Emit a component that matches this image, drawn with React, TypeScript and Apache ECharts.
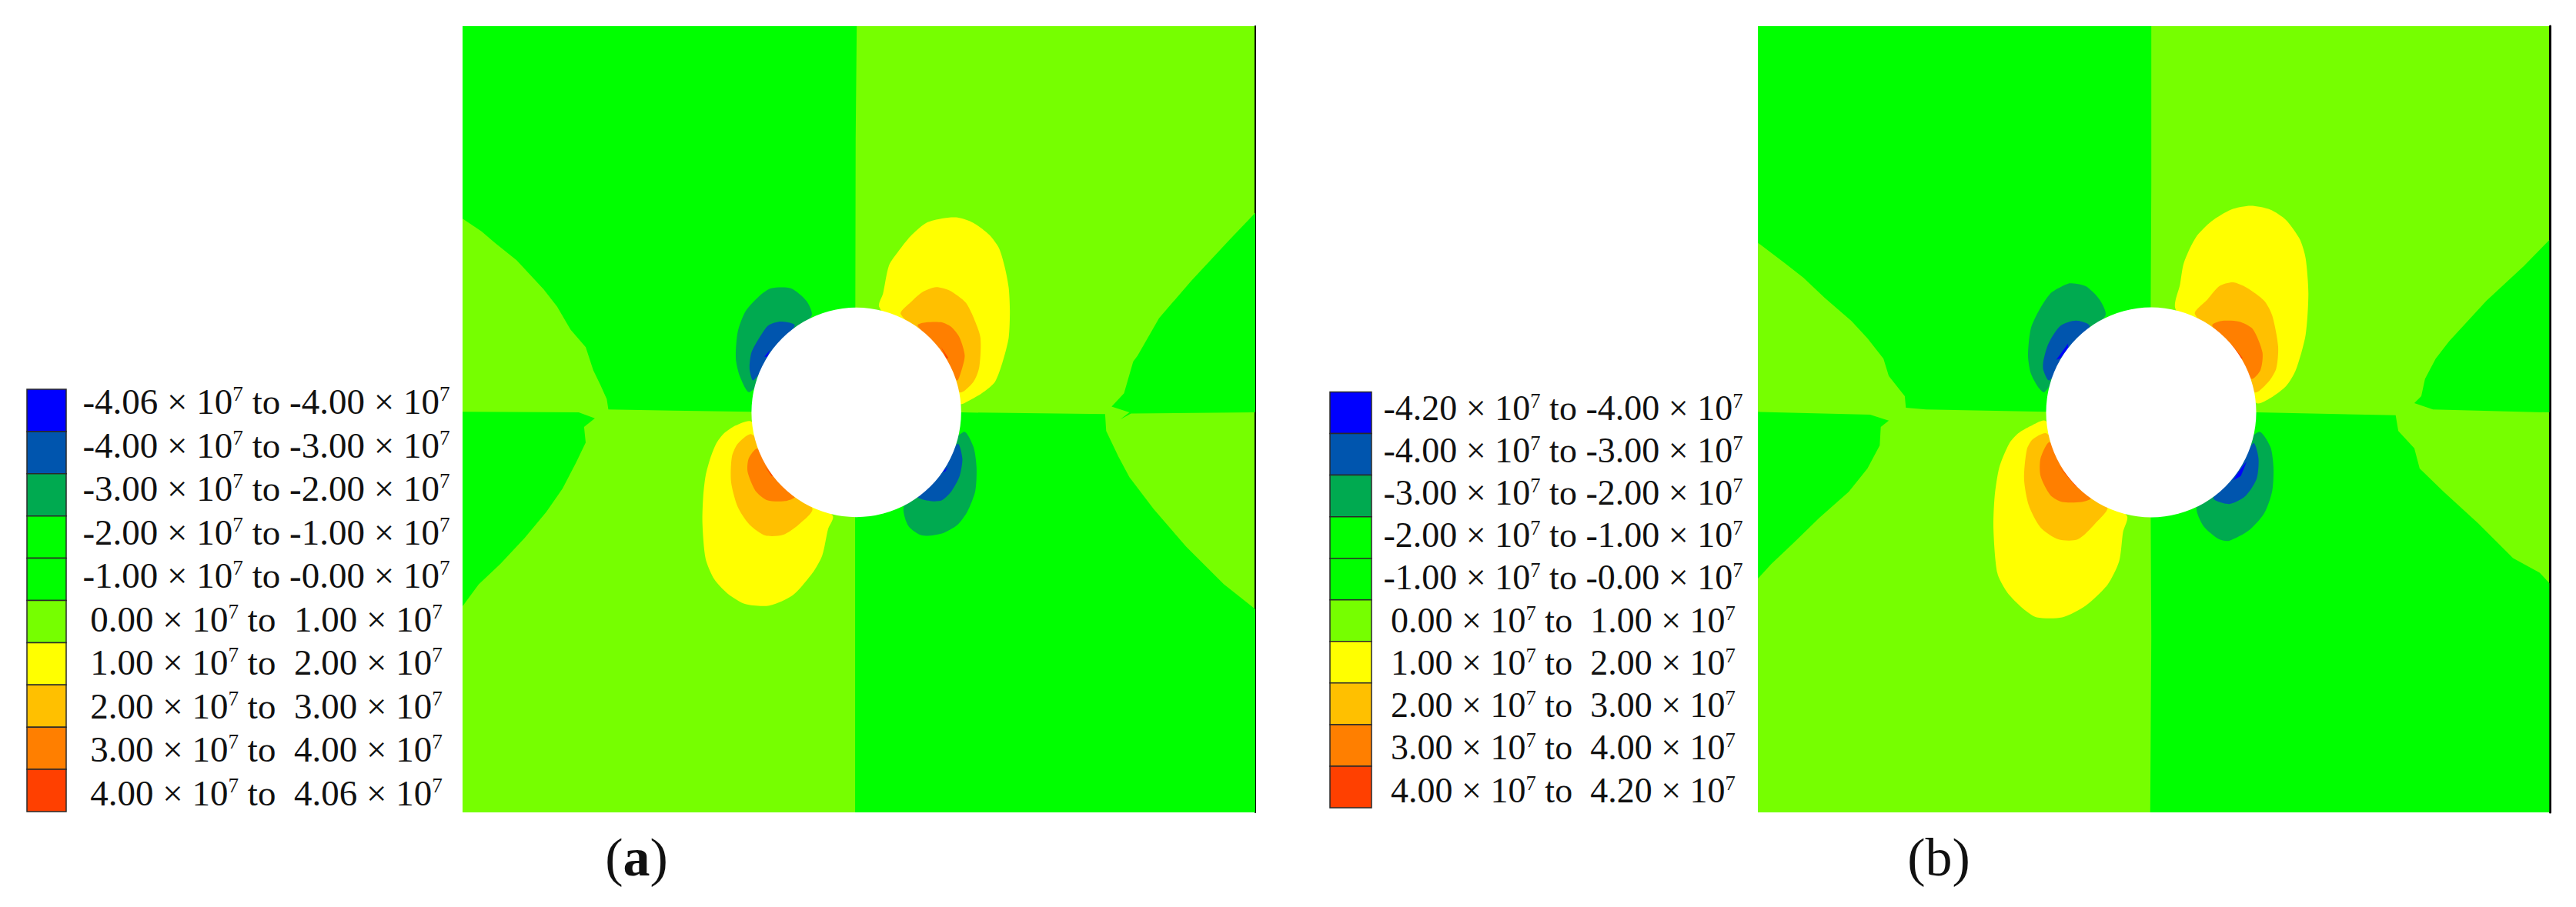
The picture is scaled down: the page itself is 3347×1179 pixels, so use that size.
import React, { useEffect, useRef } from "react";
import * as echarts from "echarts";

// Stress bands (legend rows)
const rowsA: [string, string][] = [
  ["-4.06", "-4.00"], ["-4.00", "-3.00"], ["-3.00", "-2.00"], ["-2.00", "-1.00"], ["-1.00", "-0.00"],
  ["0.00", "1.00"], ["1.00", "2.00"], ["2.00", "3.00"], ["3.00", "4.00"], ["4.00", "4.06"],
];
const rowsB: [string, string][] = [
  ["-4.20", "-4.00"], ["-4.00", "-3.00"], ["-3.00", "-2.00"], ["-2.00", "-1.00"], ["-1.00", "-0.00"],
  ["0.00", "1.00"], ["1.00", "2.00"], ["2.00", "3.00"], ["3.00", "4.00"], ["4.00", "4.20"],
];
const bandColors = ["#0000FF", "#0055AE", "#00AA50", "#00FF00", "#00FF00", "#76FF00", "#FFFF00", "#FFC000", "#FF7F00", "#FF4000"];
const LIME = "#76FF00", GREEN = "#00FF00", YELLOW = "#FFFF00", AMBER = "#FFC000", ORANGE = "#FF7F00", RED = "#FF4000", TEAL = "#00AA50", BLUE = "#0055AE", DEEP = "#0000FF";

type P = number[][];
const aOuterTL: P = [[30,45],[760,45],[758,240],[757,712],[565,712],[420,710],[300,708],[297,690],[285,665],[272,640],[258,600],[230,570],[205,530],[180,500],[130,450],[90,420],[65,400],[30,378]];
const aOuterBL: P = [[30,712],[245,713],[275,723],[255,738],[258,765],[240,800],[215,845],[185,885],[145,930],[100,975],[60,1010],[30,1048]];
const aOuterTR: P = [[1498,368],[1450,415],[1380,485],[1320,550],[1280,615],[1272,625],[1255,680],[1232,703],[1265,713],[1248,725],[1268,715],[1498,713]];
const aOuterBR: P = [[757,1405],[757,712],[955,713],[1220,716],[1222,745],[1245,790],[1265,825],[1310,880],[1370,945],[1440,1010],[1498,1053],[1498,1405]];
const bOuterTL: P = [[35,45],[772,45],[772,320],[770,712],[575,712],[350,708],[312,705],[310,685],[280,650],[270,620],[240,585],[210,555],[160,515],[120,480],[85,455],[35,420]];
const bOuterBL: P = [[35,712],[245,717],[280,727],[265,738],[263,770],[240,810],[205,850],[150,895],[100,940],[60,975],[35,1000]];
const bOuterTR: P = [[1518,415],[1470,460],[1400,520],[1330,590],[1305,620],[1285,655],[1278,685],[1265,697],[1300,708],[1518,713]];
const bOuterBR: P = [[770,1405],[772,1100],[770,712],[970,713],[1230,718],[1235,745],[1265,775],[1275,810],[1320,850],[1385,905],[1450,965],[1500,990],[1518,1008],[1518,1405]];

const aYellowTR: P = [[710,415],[720,370],[735,275],[760,225],[790,175],[830,130],[870,115],[910,112],[950,130],[990,170],[1015,215],[1030,280],[1040,350],[1043,430],[1040,520],[1025,600],[1005,670],[970,710],[930,740],[915,745],[800,600]];
const aAmberTR: P = [[765,440],[790,400],[820,365],[855,348],[890,360],[930,400],[950,450],[968,520],[965,620],[950,670],[915,705],[850,550]];
const aOrangeTR: P = [[808,478],[830,468],[870,468],[895,485],[915,520],[928,580],[920,630],[908,665],[850,540]];
const aRedTR: P = [[868,552],[886,588],[882,592]];
const aTealTL: P = [[538,445],[525,395],[485,352],[435,352],[405,378],[370,430],[350,500],[345,590],[355,650],[380,705],[450,600]];
const aBlueTL: P = [[495,478],[460,465],[428,478],[405,520],[385,570],[380,625],[390,665],[450,560]];
const aDeepTL: P = [[432,562],[418,585],[425,585]];
const aYellowBL: P = [[385,805],[345,818],[315,845],[295,880],[280,930],[268,990],[262,1060],[260,1150],[268,1270],[290,1340],[325,1390],[370,1425],[430,1430],[490,1395],[540,1320],[565,1260],[580,1170],[592,1125],[500,1000]];
const aAmberBL: P = [[385,848],[350,880],[335,925],[333,1010],[350,1095],[380,1155],[420,1192],[465,1190],[505,1155],[540,1100],[450,950]];
const aOrangeBL: P = [[400,897],[378,930],[375,975],[395,1040],[425,1072],[470,1075],[495,1060],[440,980]];
const aRedBL: P = [[418,955],[440,990],[436,990]];
const aTealBR: P = [[925,840],[950,890],[958,960],[955,1040],[935,1110],[910,1155],[870,1185],[820,1192],[785,1160],[772,1100],[800,1000]];
const aBlueBR: P = [[910,880],[922,930],[915,990],[895,1040],[870,1072],[840,1075],[808,1060],[860,980]];
const aDeepBR: P = [[885,960],[878,975],[872,975]];

const bYellowTR: P = [[718,420],[730,340],[740,265],[770,180],[810,125],[860,85],[910,72],[960,85],[1000,120],[1035,185],[1050,250],[1057,370],[1050,510],[1025,630],[1000,685],[960,725],[925,742],[800,600]];
const bAmberTR: P = [[768,440],[800,390],[830,345],[865,332],[900,350],[945,395],[965,445],[980,550],[975,625],[955,670],[920,705],[850,550]];
const bOrangeTR: P = [[812,478],[835,463],[880,465],[915,490],[940,570],[935,630],[912,660],[860,550]];
const bRedTR: P = [[860,540],[890,590],[885,590]];
const bTealTL: P = [[540,445],[525,390],[490,345],[450,335],[430,345],[400,370],[370,430],[350,490],[343,580],[350,640],[370,690],[385,705],[450,590]];
const bBlueTL: P = [[500,480],[465,462],[425,480],[395,540],[382,600],[382,630],[397,665],[460,560]];
const bDeepTL: P = [[445,540],[415,595],[425,590],[445,555]];
const bYellowBL: P = [[388,803],[350,820],[318,845],[295,880],[270,960],[258,1060],[255,1170],[265,1320],[290,1385],[330,1440],[365,1470],[430,1470],[490,1430],[545,1360],[575,1280],[585,1180],[595,1125],[500,1000]];
const bAmberBL: P = [[390,845],[355,865],[340,900],[333,1000],[345,1090],[375,1165],[420,1205],[470,1205],[515,1150],[545,1095],[450,950]];
const bOrangeBL: P = [[398,875],[375,930],[375,990],[400,1055],[430,1078],[480,1078],[503,1065],[440,980]];
const bRedBL: P = [[420,955],[470,1025],[465,1025]];
const bTealBR: P = [[930,840],[960,890],[968,960],[965,1040],[945,1115],[905,1175],[855,1210],[830,1205],[790,1160],[772,1098],[800,1000]];
const bBlueBR: P = [[917,878],[930,930],[925,1000],[895,1060],[855,1085],[815,1065],[870,980]];
const bDeepBR: P = [[900,940],[885,990],[865,1005],[880,975]];

// Hole: centre x, centre y, radius, in plate units
const holeA = [511.6, 502, 136.2];
const holeB = [511, 502, 136.5];

// Converts crop readings to plate units
const toPlate = (pts: P, ox: number, oy: number, sx: number, sy: number): P =>
  pts.map(([x, y]) => [x / sx + ox, y / sy + oy]);
const aOut = (p: P) => toPlate(p, 580 - 601, -34, 1568 / 1100, 1568 / 1179);
const aIn = (p: P) => toPlate(p, 780 - 601, 240 - 34, 1.96, 1568 / 600);
const bOut = (p: P) => toPlate(p, 2260 - 2284, -34, 1568 / 1087, 1568 / 1179);
const bIn = (p: P) => toPlate(p, 2460 - 2284, 240 - 34, 1.96, 1568 / 600);

type Region = { pts: P; color: string; smooth: number };
const out = (pts: P, color: string): Region => ({ pts, color, smooth: 0 });
const lobe = (pts: P, color: string): Region => ({ pts, color, smooth: 0.25 });
const regionsA: Region[] = [
  out(aOut(aOuterTL), GREEN), out(aOut(aOuterBL), GREEN), out(aOut(aOuterTR), GREEN), out(aOut(aOuterBR), GREEN),
  lobe(aIn(aYellowTR), YELLOW), lobe(aIn(aAmberTR), AMBER), lobe(aIn(aOrangeTR), ORANGE), out(aIn(aRedTR), RED),
  lobe(aIn(aTealTL), TEAL), lobe(aIn(aBlueTL), BLUE), out(aIn(aDeepTL), DEEP),
  lobe(aIn(aYellowBL), YELLOW), lobe(aIn(aAmberBL), AMBER), lobe(aIn(aOrangeBL), ORANGE), out(aIn(aRedBL), RED),
  lobe(aIn(aTealBR), TEAL), lobe(aIn(aBlueBR), BLUE), out(aIn(aDeepBR), DEEP),
];
const regionsB: Region[] = [
  out(bOut(bOuterTL), GREEN), out(bOut(bOuterBL), GREEN), out(bOut(bOuterTR), GREEN), out(bOut(bOuterBR), GREEN),
  lobe(bIn(bYellowTR), YELLOW), lobe(bIn(bAmberTR), AMBER), lobe(bIn(bOrangeTR), ORANGE), out(bIn(bRedTR), RED),
  lobe(bIn(bTealTL), TEAL), lobe(bIn(bBlueTL), BLUE), out(bIn(bDeepTL), DEEP),
  lobe(bIn(bYellowBL), YELLOW), lobe(bIn(bAmberBL), AMBER), lobe(bIn(bOrangeBL), ORANGE), out(bIn(bRedBL), RED),
  lobe(bIn(bTealBR), TEAL), lobe(bIn(bBlueBR), BLUE), out(bIn(bDeepBR), DEEP),
];

const SERIF = "'Liberation Serif', serif";

const rowText = ([a, b]: [string, string]) => {
  const gap = a.startsWith("-") ? " " : "  ";
  return `{n|${a} × 10}{s|7}{n| to${gap}${b} × 10}{s|7}`;
};

const legend = (rows: [string, string][], sx0: number, sx1: number, sTop: number, sBot: number, tCx: number, tY0: number, tY1: number, fs: number) => {
  const h = (sBot - sTop) / rows.length;
  const els: any[] = [];
  rows.forEach((r, i) => {
    els.push({
      type: "rect", silent: true,
      shape: { x: sx0, y: sTop + i * h, width: sx1 - sx0, height: h },
      style: { fill: bandColors[i], stroke: "#2a2a2a", lineWidth: 1.5 },
    });
    els.push({
      type: "text", silent: true,
      x: tCx, y: tY0 + ((tY1 - tY0) * i) / (rows.length - 1),
      style: {
        text: rowText(r), align: "center", verticalAlign: "middle", fill: "#111",
        rich: {
          n: { fontFamily: SERIF, fontSize: fs, fill: "#111", lineHeight: fs },
          s: { fontFamily: SERIF, fontSize: fs * 0.58, fill: "#111", verticalAlign: "top", lineHeight: fs * 0.58 },
        },
      },
    });
  });
  return els;
};

const plate = (idx: number, regions: Region[], hole: number[]) => [
  {
    type: "custom", xAxisIndex: idx, yAxisIndex: idx, clip: true, silent: true, z: 2,
    data: regions.map((_, i) => [i]),
    renderItem: (params: any, api: any) => {
      const r = regions[params.dataIndex];
      return {
        type: "polygon",
        shape: { points: r.pts.map((p) => api.coord(p)), smooth: r.smooth },
        style: { fill: r.color },
      };
    },
  },
  {
    type: "custom", xAxisIndex: idx, yAxisIndex: idx, clip: true, silent: true, z: 3,
    data: [hole],
    renderItem: (_: any, api: any) => {
      const c = api.coord([api.value(0), api.value(1)]);
      const s = api.size([api.value(2), api.value(2)]);
      return { type: "circle", shape: { cx: c[0], cy: c[1], r: s[0] }, style: { fill: "#fff" } };
    },
  },
];

const axisPair = (idx: number, w: number, h: number, lw: number) => ({
  x: { type: "value", gridIndex: idx, min: 0, max: w, show: false },
  y: {
    type: "value", gridIndex: idx, min: 0, max: h, inverse: true, position: "right",
    axisLine: { show: true, onZero: false, lineStyle: { color: "#000", width: lw } },
    axisTick: { show: false }, axisLabel: { show: false }, splitLine: { show: false },
  },
});

export default function App() {
  const ref = useRef<HTMLDivElement>(null);
  useEffect(() => {
    document.body.style.margin = "0";
    const chart = echarts.init(ref.current!, undefined, { renderer: "svg" });
    const a = axisPair(0, 1030, 1022, 2);
    const b = axisPair(1, 1029, 1022, 3);
    chart.setOption({
      animation: false,
      backgroundColor: "#fff",
      grid: [
        { left: 601, top: 34, width: 1030, height: 1022, show: true, backgroundColor: LIME, borderWidth: 0 },
        { left: 2284, top: 34, width: 1029, height: 1022, show: true, backgroundColor: LIME, borderWidth: 0 },
      ],
      xAxis: [a.x, b.x],
      yAxis: [a.y, b.y],
      series: [...plate(0, regionsA, holeA), ...plate(1, regionsB, holeB)],
      graphic: [
        ...legend(rowsA, 35, 86, 506, 1055, 346, 522, 1031, 47),
        ...legend(rowsB, 1728, 1782, 509.5, 1050, 2031, 530, 1027, 46),
        {
          type: "text", silent: true, x: 827, y: 1114,
          style: {
            text: "{r|(}{g|a}{r|)}", align: "center", verticalAlign: "middle",
            rich: {
              r: { fontFamily: SERIF, fontSize: 70, fill: "#111", lineHeight: 70 },
              g: { fontFamily: SERIF, fontSize: 70, fontWeight: "bold", fill: "#111", lineHeight: 70 },
            },
          },
        },
        { type: "text", silent: true, x: 2519, y: 1114, style: { text: "(b)", align: "center", verticalAlign: "middle", fontFamily: SERIF, fontSize: 70, fill: "#111" } },
      ],
    });
    return () => chart.dispose();
  }, []);
  return <div ref={ref} style={{ width: 3347, height: 1179 }} />;
}
